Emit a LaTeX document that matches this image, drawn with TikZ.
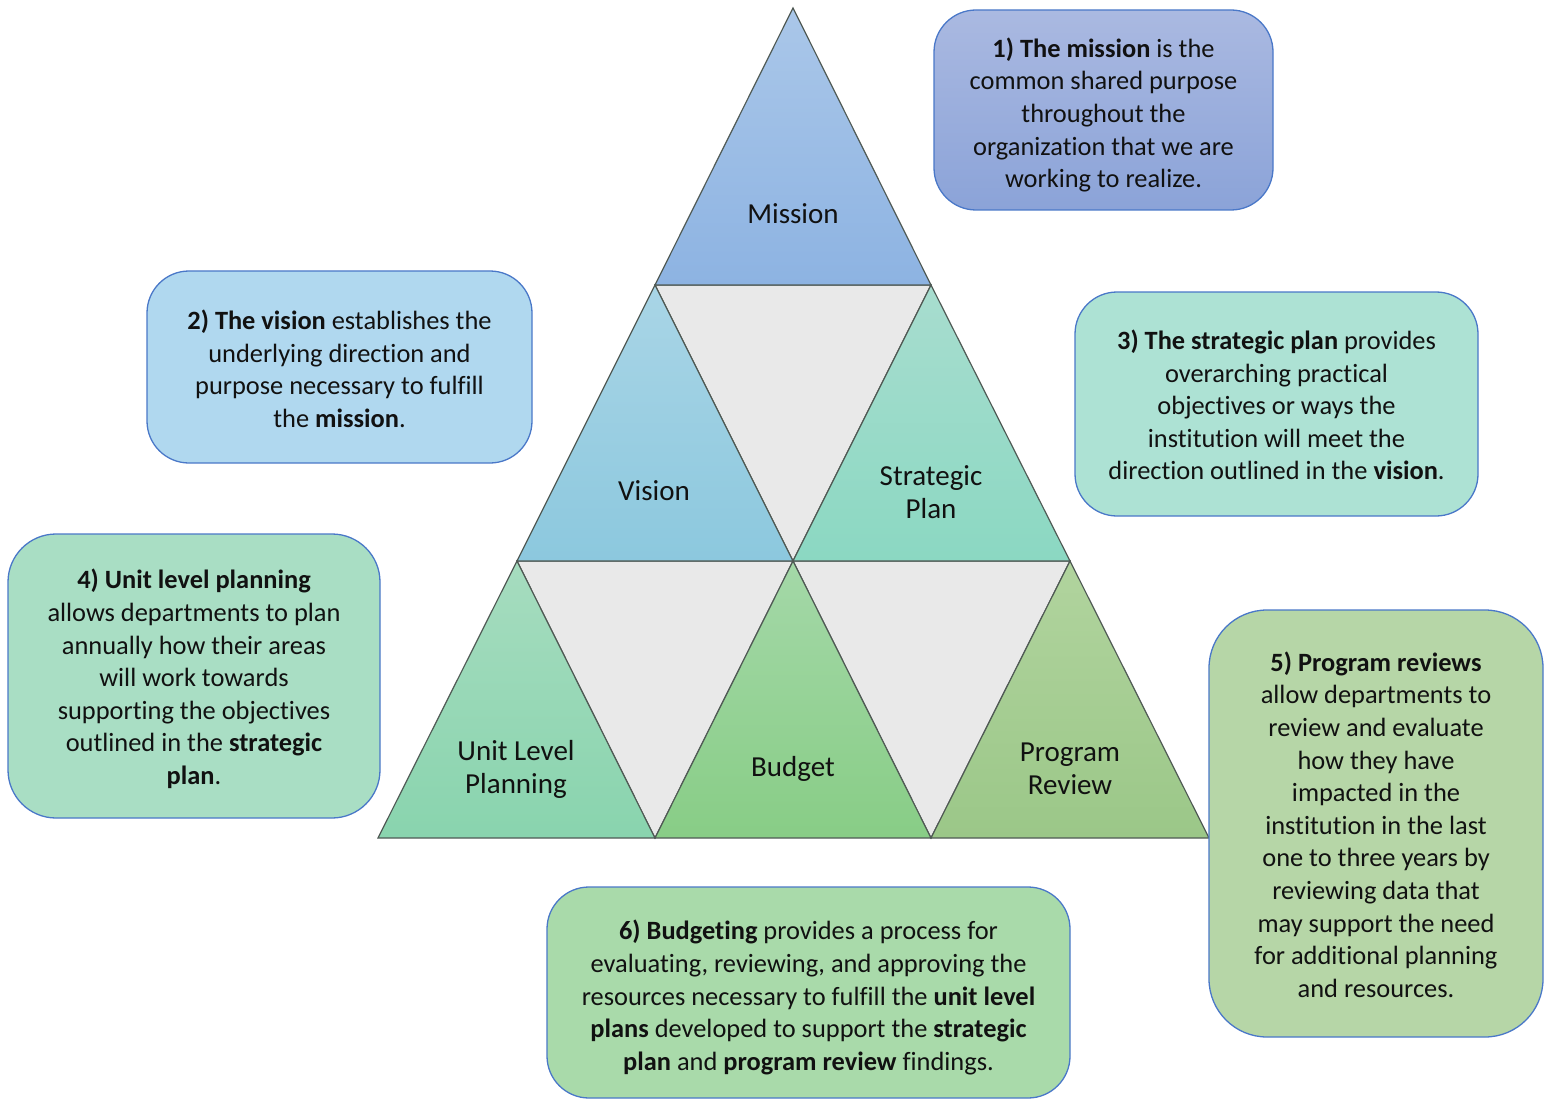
\documentclass[tikz,border=0pt]{standalone}
\usepackage{fontspec}
\setmainfont{Carlito}[Ligatures=NoCommon]
\newcommand\notefont{\fontsize{26.4}{32.6}\selectfont}
\newcommand\tilefont{\fontsize{29}{33}\selectfont}
\definecolor{ink}{HTML}{111111}
\definecolor{triedge}{HTML}{505A55}
\definecolor{noteedge}{HTML}{4A78C8}
\definecolor{gapgray}{HTML}{E9E9E9}
\begin{document}
\begin{tikzpicture}[x=1pt,y=-1pt,
  tri/.style={draw=triedge, line width=1.2pt, line join=miter},
  note/.style={draw=noteedge, line width=1.3pt, rounded corners=42pt, inner sep=0pt},
  notetext/.style={align=center, font=\notefont, text=ink},
  lbl/.style={align=center, font=\tilefont, text=ink, inner sep=0pt}
]
\useasboundingbox (0,0) rectangle (1549,1099);

% corner points of the pyramid
\coordinate (apex) at (793,8);
\coordinate (l1) at (655,285);   \coordinate (r1) at (931,285);
\coordinate (l2) at (517,561);   \coordinate (m2) at (793,561);  \coordinate (r2) at (1070,561);
\coordinate (b0) at (378,838);   \coordinate (b1) at (655,838);
\coordinate (b2) at (931,838);   \coordinate (b3) at (1209,838);

% inverted gaps
\filldraw[tri, fill=gapgray] (l1) -- (r1) -- (m2) -- cycle;
\filldraw[tri, fill=gapgray] (l2) -- (m2) -- (b1) -- cycle;
\filldraw[tri, fill=gapgray] (m2) -- (r2) -- (b2) -- cycle;

% upright tiles
\shadedraw[tri, top color={rgb,255:red,170;green,199;blue,233}, bottom color={rgb,255:red,141;green,179;blue,226}]
  (apex) -- (r1) -- (l1) -- cycle;
\shadedraw[tri, top color={rgb,255:red,169;green,213;blue,230}, bottom color={rgb,255:red,140;green,200;blue,222}]
  (l1) -- (m2) -- (l2) -- cycle;
\shadedraw[tri, top color={rgb,255:red,168;green,221;blue,207}, bottom color={rgb,255:red,139;green,216;blue,194}]
  (r1) -- (r2) -- (m2) -- cycle;
\shadedraw[tri, top color={rgb,255:red,166;green,220;blue,191}, bottom color={rgb,255:red,137;green,212;blue,174}]
  (l2) -- (b1) -- (b0) -- cycle;
\shadedraw[tri, top color={rgb,255:red,164;green,216;blue,168}, bottom color={rgb,255:red,136;green,205;blue,134}]
  (m2) -- (b2) -- (b1) -- cycle;
\shadedraw[tri, top color={rgb,255:red,177;green,212;blue,158}, bottom color={rgb,255:red,155;green,199;blue,136}]
  (r2) -- (b3) -- (b2) -- cycle;

% tile labels
\node[lbl] (tmission) at (793,214) {Mission};
\node[lbl] (tvision) at (654,491) {Vision};
\node[lbl] (tstrat) at (931,492) {Strategic\\Plan};
\node[lbl] (tunit) at (516,769) {Unit Level\\Planning};
\node[lbl] (tbudget) at (793,769) {Budget};
\node[lbl] (tprog) at (1070,769) {Program\\Review};

% explanatory notes
\node[note, minimum width=339pt, minimum height=200pt,
  top color={rgb,255:red,170;green,185;blue,225}, bottom color={rgb,255:red,139;green,163;blue,216}]
  (n1) at (1103.5,110) {};
\node[notetext] (n1text) at ([yshift=-5pt]n1.center)
  {\textbf{1) The mission} is the\\common shared purpose\\throughout the\\organization that we are\\working to realize.};

\node[note, minimum width=385pt, minimum height=192pt, fill={rgb,255:red,176;green,216;blue,239}]
  (n2) at (339.5,367) {};
\node[notetext] (n2text) at ([yshift=-2pt]n2.center)
  {\textbf{2) The vision} establishes the\\underlying direction and\\purpose necessary to fulfill\\the \textbf{mission}.};

\node[note, minimum width=403pt, minimum height=224pt, fill={rgb,255:red,173;green,226;blue,212}]
  (n3) at (1276.5,404) {};
\node[notetext] (n3text) at ([yshift=-1pt]n3.center)
  {\textbf{3) The strategic plan} provides\\overarching practical\\objectives or ways the\\institution will meet the\\direction outlined in the \textbf{vision}.};

\node[note, minimum width=372pt, minimum height=284pt, rounded corners=48pt, fill={rgb,255:red,169;green,222;blue,196}]
  (n4) at (194,676) {};
\node[notetext] (n4text) at ([yshift=-3pt]n4.center)
  {\textbf{4) Unit level planning}\\allows departments to plan\\annually how their areas\\will work towards\\supporting the objectives\\outlined in the \textbf{strategic}\\\textbf{plan}.};

\node[note, minimum width=334pt, minimum height=427pt, rounded corners=58pt, fill={rgb,255:red,182;green,214;blue,167}]
  (n5) at (1376,823.5) {};
\node[notetext] (n5text) at ([yshift=-1pt]n5.center)
  {\textbf{5) Program reviews}\\allow departments to\\review and evaluate\\how they have\\impacted in the\\institution in the last\\one to three years by\\reviewing data that\\may support the need\\for additional planning\\and resources.};

\node[note, minimum width=523pt, minimum height=211pt, fill={rgb,255:red,169;green,218;blue,170}]
  (n6) at (808.5,992.5) {};
\node[notetext] (n6text) at ([yshift=-5pt]n6.center)
  {\textbf{6) Budgeting} provides a process for\\evaluating, reviewing, and approving the\\resources necessary to fulfill the \textbf{unit level}\\\textbf{plans} developed to support the \textbf{strategic}\\\textbf{plan} and \textbf{program review} findings.};
\end{tikzpicture}
\end{document}
